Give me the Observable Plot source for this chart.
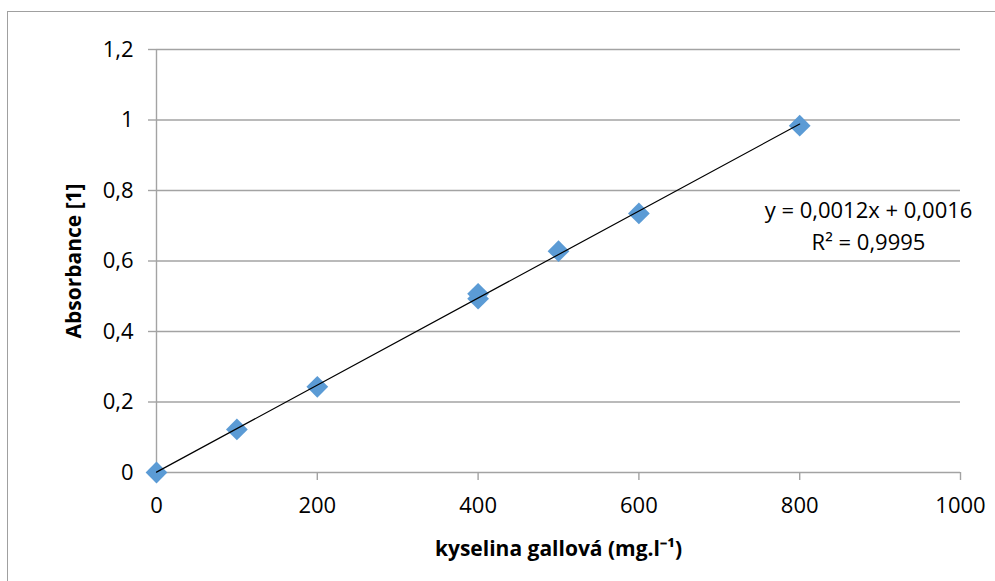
<!DOCTYPE html>
<html><head><meta charset="utf-8">
<script src="https://cdn.jsdelivr.net/npm/d3@7"></script>
<script src="https://cdn.jsdelivr.net/npm/@observablehq/plot@0.6"></script>
<style>
html,body{margin:0;padding:0;background:#fff;overflow:hidden}
#wrap{position:relative;width:995px;height:581px;overflow:hidden}
#frame{position:absolute;left:7px;top:11px;width:1100px;height:700px;border:1.5px solid #a0a0a0}
#chart{position:absolute;left:0;top:0}
</style></head><body>
<div id="wrap"><div id="frame"></div><div id="chart"></div></div>
<script>
const concentration = [0, 100, 200, 400, 400, 500, 600, 800];
const absorbance = [0, 0.122, 0.243, 0.493, 0.507, 0.628, 0.735, 0.984];
const xTicks = [0, 200, 400, 600, 800, 1000];
const yTicks = [0, 0.2, 0.4, 0.6, 0.8, 1, 1.2];
const xLabel = "kyselina gallová (mg.l⁻¹)";
const yLabel = "Absorbance [1]";
const equationLines = ["y = 0,0012x + 0,0016", "R² = 0,9995"];

const data = concentration.map((c, i) => ({c, a: absorbance[i]}));
const fmt = d => String(d).replace(".", ",");
const grid = "#a3a3a3";

const chart = Plot.plot({
  width: 995, height: 581,
  marginLeft: 156, marginRight: 35, marginTop: 49, marginBottom: 109,
  style: {background: "transparent", fontFamily: "'Open Sans', sans-serif", fontSize: "22px", color: "#000"},
  x: {domain: [0, 1000], ticks: xTicks},
  y: {domain: [0, 1.2], ticks: yTicks},
  marks: [
    Plot.ruleY(yTicks, {stroke: grid, strokeWidth: 1.4}),
    Plot.ruleX([0], {stroke: grid, strokeWidth: 1.4}),
    Plot.axisY({ticks: yTicks, tickFormat: fmt, tickSize: 8, tickPadding: 15, stroke: grid, strokeWidth: 1.4, strokeOpacity: 1, label: null, fill: "#000"}),
    Plot.axisX({ticks: xTicks, tickFormat: fmt, tickSize: 8, tickPadding: 17, stroke: grid, strokeWidth: 1.4, strokeOpacity: 1, label: null, fill: "#000"}),
    Plot.dot(data, {x: "c", y: "a", symbol: "diamond2", r: 9.8, fill: "#5b9bd5", stroke: "none"}),
    Plot.linearRegressionY(data, {x: "c", y: "a", ci: 0, stroke: "#000", strokeWidth: 1.2}),
    Plot.text([equationLines.join("\n")], {frameAnchor: "top-right", textAnchor: "middle", lineAnchor: "top", dx: -92, dy: 146, lineHeight: 1.45, fontSize: 22, fill: "#000"}),
    Plot.text([xLabel], {frameAnchor: "bottom", lineAnchor: "middle", dy: 77, fontWeight: "bold", fontSize: 21, fill: "#000"}),
    Plot.text([yLabel], {frameAnchor: "left", textAnchor: "middle", lineAnchor: "middle", rotate: -90, dx: -82, fontWeight: "bold", fontSize: 21, fill: "#000"})
  ]
});
document.getElementById("chart").appendChild(chart);
</script>
</body></html>
